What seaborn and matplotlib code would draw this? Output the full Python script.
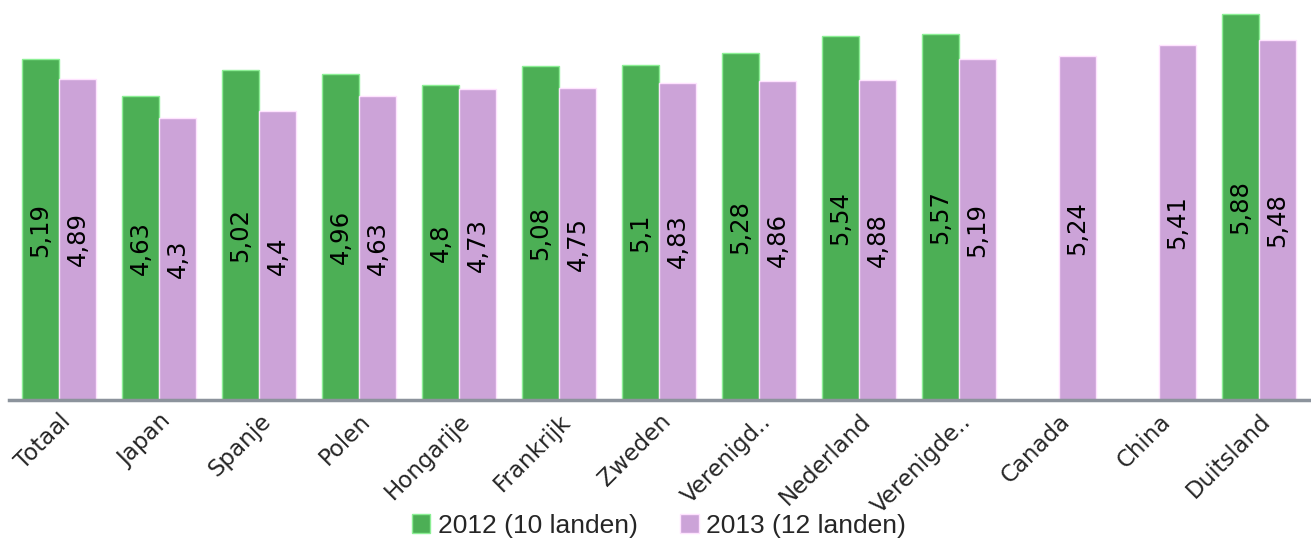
import numpy as np
import pandas as pd
import matplotlib
matplotlib.use("Agg")
import matplotlib.pyplot as plt
import seaborn as sns

# Data: average score per country, two survey years
countries = ["Totaal", "Japan", "Spanje", "Polen", "Hongarije", "Frankrijk", "Zweden",
             "Verenigd..", "Nederland", "Verenigde..", "Canada", "China", "Duitsland"]
values_2012 = [5.19, 4.63, 5.02, 4.96, 4.80, 5.08, 5.10, 5.28, 5.54, 5.57, np.nan, np.nan, 5.88]
values_2013 = [4.89, 4.30, 4.40, 4.63, 4.73, 4.75, 4.83, 4.86, 4.88, 5.19, 5.24, 5.41, 5.48]
series_names = ["2012 (10 landen)", "2013 (12 landen)"]

df = pd.DataFrame({
    "land": countries * 2,
    "waarde": values_2012 + values_2013,
    "jaar": [series_names[0]] * len(countries) + [series_names[1]] * len(countries),
})

sns.set_style("white")
plt.rcParams["font.family"] = ["DejaVu Sans"]

green = "#4CAF55"
lilac = "#CCA3D8"

fig = plt.figure(figsize=(13.11, 5.43), dpi=100)
ax = fig.add_axes([9 / 1311, 1 - 400 / 543, 1300 / 1311, 394 / 543])

sns.barplot(data=df, x="land", y="waarde", hue="jaar", order=countries,
            hue_order=series_names, palette=[green, lilac], width=0.74,
            saturation=1, errorbar=None, ax=ax, legend=True)

# Light outline around each bar
for patch in ax.patches:
    fc = patch.get_facecolor()
    edge = tuple(min(1, c + 0.25) for c in fc[:3])
    patch.set_edgecolor(edge)
    patch.set_linewidth(1.0)

for cont in ax.containers:
    ax.bar_label(cont, label_type="center", rotation=90, fontsize=17.5,
                 color="black", fmt=lambda v: f"{v:g}".replace(".", ","))

ax.set_ylim(0, 6)
ax.set_xlim(-0.5, len(countries) - 0.5)
ax.set_xlabel("")
ax.set_ylabel("")
ax.set_yticks([])
ax.tick_params(axis="x", length=0, pad=7)
plt.setp(ax.get_xticklabels(), rotation=45, ha="right", rotation_mode="anchor",
         fontsize=16.5)

for side in ["left", "top", "right"]:
    ax.spines[side].set_visible(False)
ax.spines["bottom"].set_color("#8C939C")
ax.spines["bottom"].set_linewidth(2.5)

handles, labels = ax.get_legend_handles_labels()
ax.legend(handles, labels, loc="lower center", bbox_to_anchor=(0.5, -0.41),
          ncol=2, frameon=False, handlelength=0.7, handleheight=0.7,
          handletextpad=0.3, columnspacing=1.6,
          prop={"family": "Liberation Sans", "size": 19})

fig.savefig("out.png", dpi=100)
